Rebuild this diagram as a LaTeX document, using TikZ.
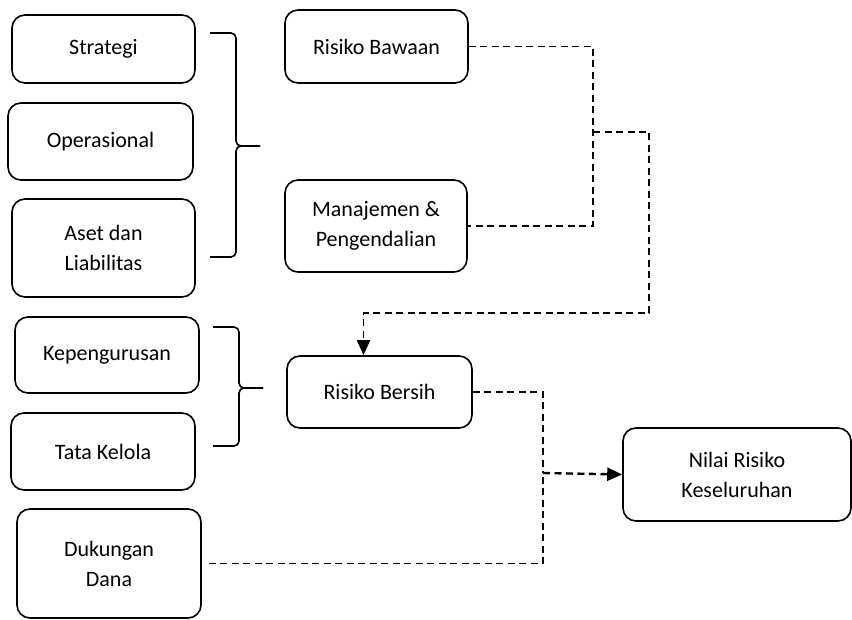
\documentclass[tikz,border=0pt]{standalone}
\usepackage{fontspec}
\setmainfont{Carlito}
\usetikzlibrary{arrows.meta}

\begin{document}
\begin{tikzpicture}[x=1pt,y=-1pt,
    riskbox/.style={draw,line width=1.6pt,rounded corners=13pt,align=center,inner sep=2pt,
      font=\fontsize{22}{30}\selectfont},
    bracket/.style={line width=1.6pt,rounded corners=5pt},
    link/.style={line width=1.8pt,dash pattern=on 7pt off 4.5pt},
    linkarrow/.style={-{Triangle[length=15pt,width=13pt]}}]
            \useasboundingbox (0,0) rectangle (852,620);
            %% boxes
            \foreach \nm/\cx/\cy/\w/\h/\txt in {
              strat/103.5/49/183/68/Strategi,
              oper/100.5/141.5/185/77/Operasional,
              aset/103.5/248/183/98/{Aset dan\\Liabilitas},
              kepeng/107/355/184/76/Kepengurusan,
              tata/103/451.5/184/77/Tata Kelola,
              dukung/109/563.5/184/109/{Dukungan\\Dana},
              bawaan/376.5/46.5/183/73/Risiko Bawaan,
              manaj/376/226/182/92/{Manajemen \&\\Pengendalian},
              bersih/379.5/392/185/72/Risiko Bersih,
              nilai/737/474.5/228/93/{Nilai Risiko\\Keseluruhan}}{
            \node[riskbox,minimum width=\w,minimum height=\h] (\nm) at (\cx,\cy) {\txt};
            }
            %% braces
            \foreach \bx/\ytop/\ymid/\ybot in {210/33/146/257,213/327/388/446}{
            \draw[bracket] (\bx,\ytop) -- (\bx+26,\ytop) -- (\bx+26,\ymid) -- (\bx+50,\ymid);
            \draw[bracket] (\bx,\ybot) -- (\bx+26,\ybot) -- (\bx+26,\ymid) -- (\bx+50,\ymid);
            }
            % dashed links
            \coordinate (j1) at (593,132);
            \coordinate (j2) at (649,313);
            \coordinate (j3) at (543,473);
            \draw[link] (bawaan.east) -| (j1) |- (manaj.east);
            \draw[link,linkarrow] (j1) -| (j2) -| ([xshift=-16pt]bersih.north);
            \draw[link] (bersih.east) -| (j3);
            \draw[link] ([xshift=7pt]dukung.east) -| (j3);
            \draw[link,line width=2.4pt,linkarrow] (j3) -- (nilai.west);
        \end{tikzpicture}
\end{document}
